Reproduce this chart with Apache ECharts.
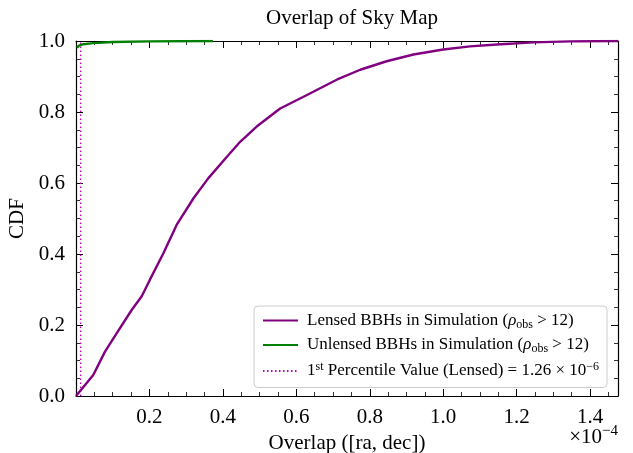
<!DOCTYPE html>
<html><head><meta charset="utf-8">
<script src="https://cdn.jsdelivr.net/npm/echarts@6/dist/echarts.min.js"></script>
<style>html,body{margin:0;padding:0;background:#fff}#c{width:633px;height:453px}</style>
</head><body><div id="c"></div>
<script>
// values in units of 1e-4
var lensedX = [0, 0.004, 0.047, 0.079, 0.111, 0.152, 0.179, 0.201, 0.238, 0.274, 0.320, 0.360, 0.411, 0.447, 0.492, 0.556, 0.629, 0.710, 0.774, 0.846, 0.919, 1.000, 1.073, 1.146, 1.246, 1.346, 1.476];
var lensedY = [0, 0.003, 0.059, 0.125, 0.177, 0.243, 0.281, 0.327, 0.402, 0.482, 0.557, 0.613, 0.674, 0.716, 0.759, 0.810, 0.848, 0.891, 0.919, 0.943, 0.962, 0.976, 0.985, 0.990, 0.996, 0.999, 1.0];
var unlensedX = [0.003, 0.008, 0.02, 0.047, 0.1, 0.2, 0.373];
var unlensedY = [0.981, 0.987, 0.991, 0.994, 0.997, 0.999, 1.0];
var percentileX = [0.0126, 0.0126];
var percentileY = [0, 1];
var xTicks = [0.2, 0.4, 0.6, 0.8, 1.0, 1.2, 1.4];
var yTicks = [0.0, 0.2, 0.4, 0.6, 0.8, 1.0];

function zip(a, b) { return a.map(function (v, i) { return [v, b[i]]; }); }
var F = 'Liberation Serif';
var chart = echarts.init(document.getElementById('c'));
var baseAxis = {
  axisLine: { show: true, onZero: false, lineStyle: { color: '#000', width: 1.2 } },
  axisTick: { show: true, inside: true, length: 7, lineStyle: { color: '#000', width: 1 } },
  minorTick: { show: true, splitNumber: 4, length: 4, lineStyle: { color: '#000', width: 0.8 } },
  splitLine: { show: false }
};
var legendText = {
  lensed: '{f|Lensed BBHs in Simulation (}{i|ρ}{sub|obs}{a| > 12)}',
  unlensed: '{f|Unlensed BBHs in Simulation (}{i|ρ}{sub|obs}{a| > 12)}',
  pct: '{f|1}{sup|st}{a| Percentile Value (Lensed) = 1.26 × 10}{sup|−6}'
};
function fmt(list) {
  return function (v) { var t = list.filter(function (k) { return Math.abs(k - v) < 1e-6; }); return t.length ? t[0].toFixed(1) : ''; };
}
chart.setOption({
  animation: false,
  title: { text: 'Overlap of Sky Map', left: 347, textAlign: 'center', top: 3,
    textStyle: { fontFamily: F, fontSize: 21, fontWeight: 'normal', color: '#000' } },
  grid: { left: 76, right: 15, top: 41, bottom: 57, containLabel: false, outerBoundsMode: 'none' },
  xAxis: [
    Object.assign({}, baseAxis, { type: 'value', min: 0, max: 1.476, interval: 0.2,
      name: 'Overlap ([ra, dec])', nameLocation: 'middle', nameGap: 36,
      nameTextStyle: { fontFamily: F, fontSize: 21, color: '#000' },
      axisLabel: { margin: 11, fontFamily: F, fontSize: 21, color: '#000', showMaxLabel: false, formatter: fmt(xTicks) } }),
    Object.assign({}, baseAxis, { type: 'value', position: 'top', min: 0, max: 1.476, interval: 0.2,
      axisLabel: { show: false } })
  ],
  yAxis: [
    Object.assign({}, baseAxis, { type: 'value', min: 0, max: 1, interval: 0.2,
      name: 'CDF', nameLocation: 'middle', nameGap: 43, nameRotate: 90,
      nameTextStyle: { fontFamily: F, fontSize: 21, color: '#000' },
      axisLabel: { margin: 11, fontFamily: F, fontSize: 21, color: '#000', formatter: fmt(yTicks) } }),
    Object.assign({}, baseAxis, { type: 'value', position: 'right', min: 0, max: 1, interval: 0.2,
      axisLabel: { show: false } })
  ],
  legend: {
    orient: 'vertical', left: 254, top: 306,
    data: ['lensed', 'unlensed', 'pct'],
    itemWidth: 35, itemHeight: 14, itemGap: 6,
    padding: [6, 8, 8, 8],
    itemStyle: { opacity: 0 },
    backgroundColor: '#fff', borderColor: '#cccccc', borderWidth: 1, borderRadius: 4,
    formatter: function (n) { return legendText[n]; },
    textStyle: {
      rich: {
        f: { fontFamily: F, fontSize: 17, color: '#000', lineHeight: 20, padding: [0, 0, 0, 4] },
        a: { fontFamily: F, fontSize: 17, color: '#000', lineHeight: 20 },
        i: { fontFamily: F, fontSize: 17, fontStyle: 'italic', color: '#000', lineHeight: 20 },
        sub: { fontFamily: F, fontSize: 12, color: '#000', verticalAlign: 'bottom', lineHeight: 14, padding: [5, 0, 0, 0] },
        sup: { fontFamily: F, fontSize: 12, color: '#000', verticalAlign: 'top', lineHeight: 14, padding: [0, 0, 4, 0] }
      }
    }
  },
  graphic: [{
    type: 'text', right: 15, top: 424,
    style: { text: '{a|×10}{sup|−4}', rich: {
      a: { fontFamily: F, fontSize: 21, fill: '#000', lineHeight: 26 },
      sup: { fontFamily: F, fontSize: 15, fill: '#000', verticalAlign: 'top', lineHeight: 15, padding: [0, 0, 8, 0] } } }
  }],
  series: [
    { name: 'lensed', type: 'line', data: zip(lensedX, lensedY), symbol: 'none', z: 3,
      lineStyle: { color: '#800080', width: 2.4 }, itemStyle: { color: '#800080' } },
    { name: 'unlensed', type: 'line', data: zip(unlensedX, unlensedY), symbol: 'none', z: 4,
      lineStyle: { color: '#008000', width: 2.4 }, itemStyle: { color: '#008000' } },
    { name: 'pct', type: 'line', data: zip(percentileX, percentileY), symbol: 'none', z: 2,
      lineStyle: { color: '#c000c0', width: 1.4, type: [1.5, 2.5] }, itemStyle: { color: '#c000c0' } }
  ]
});
</script></body></html>
